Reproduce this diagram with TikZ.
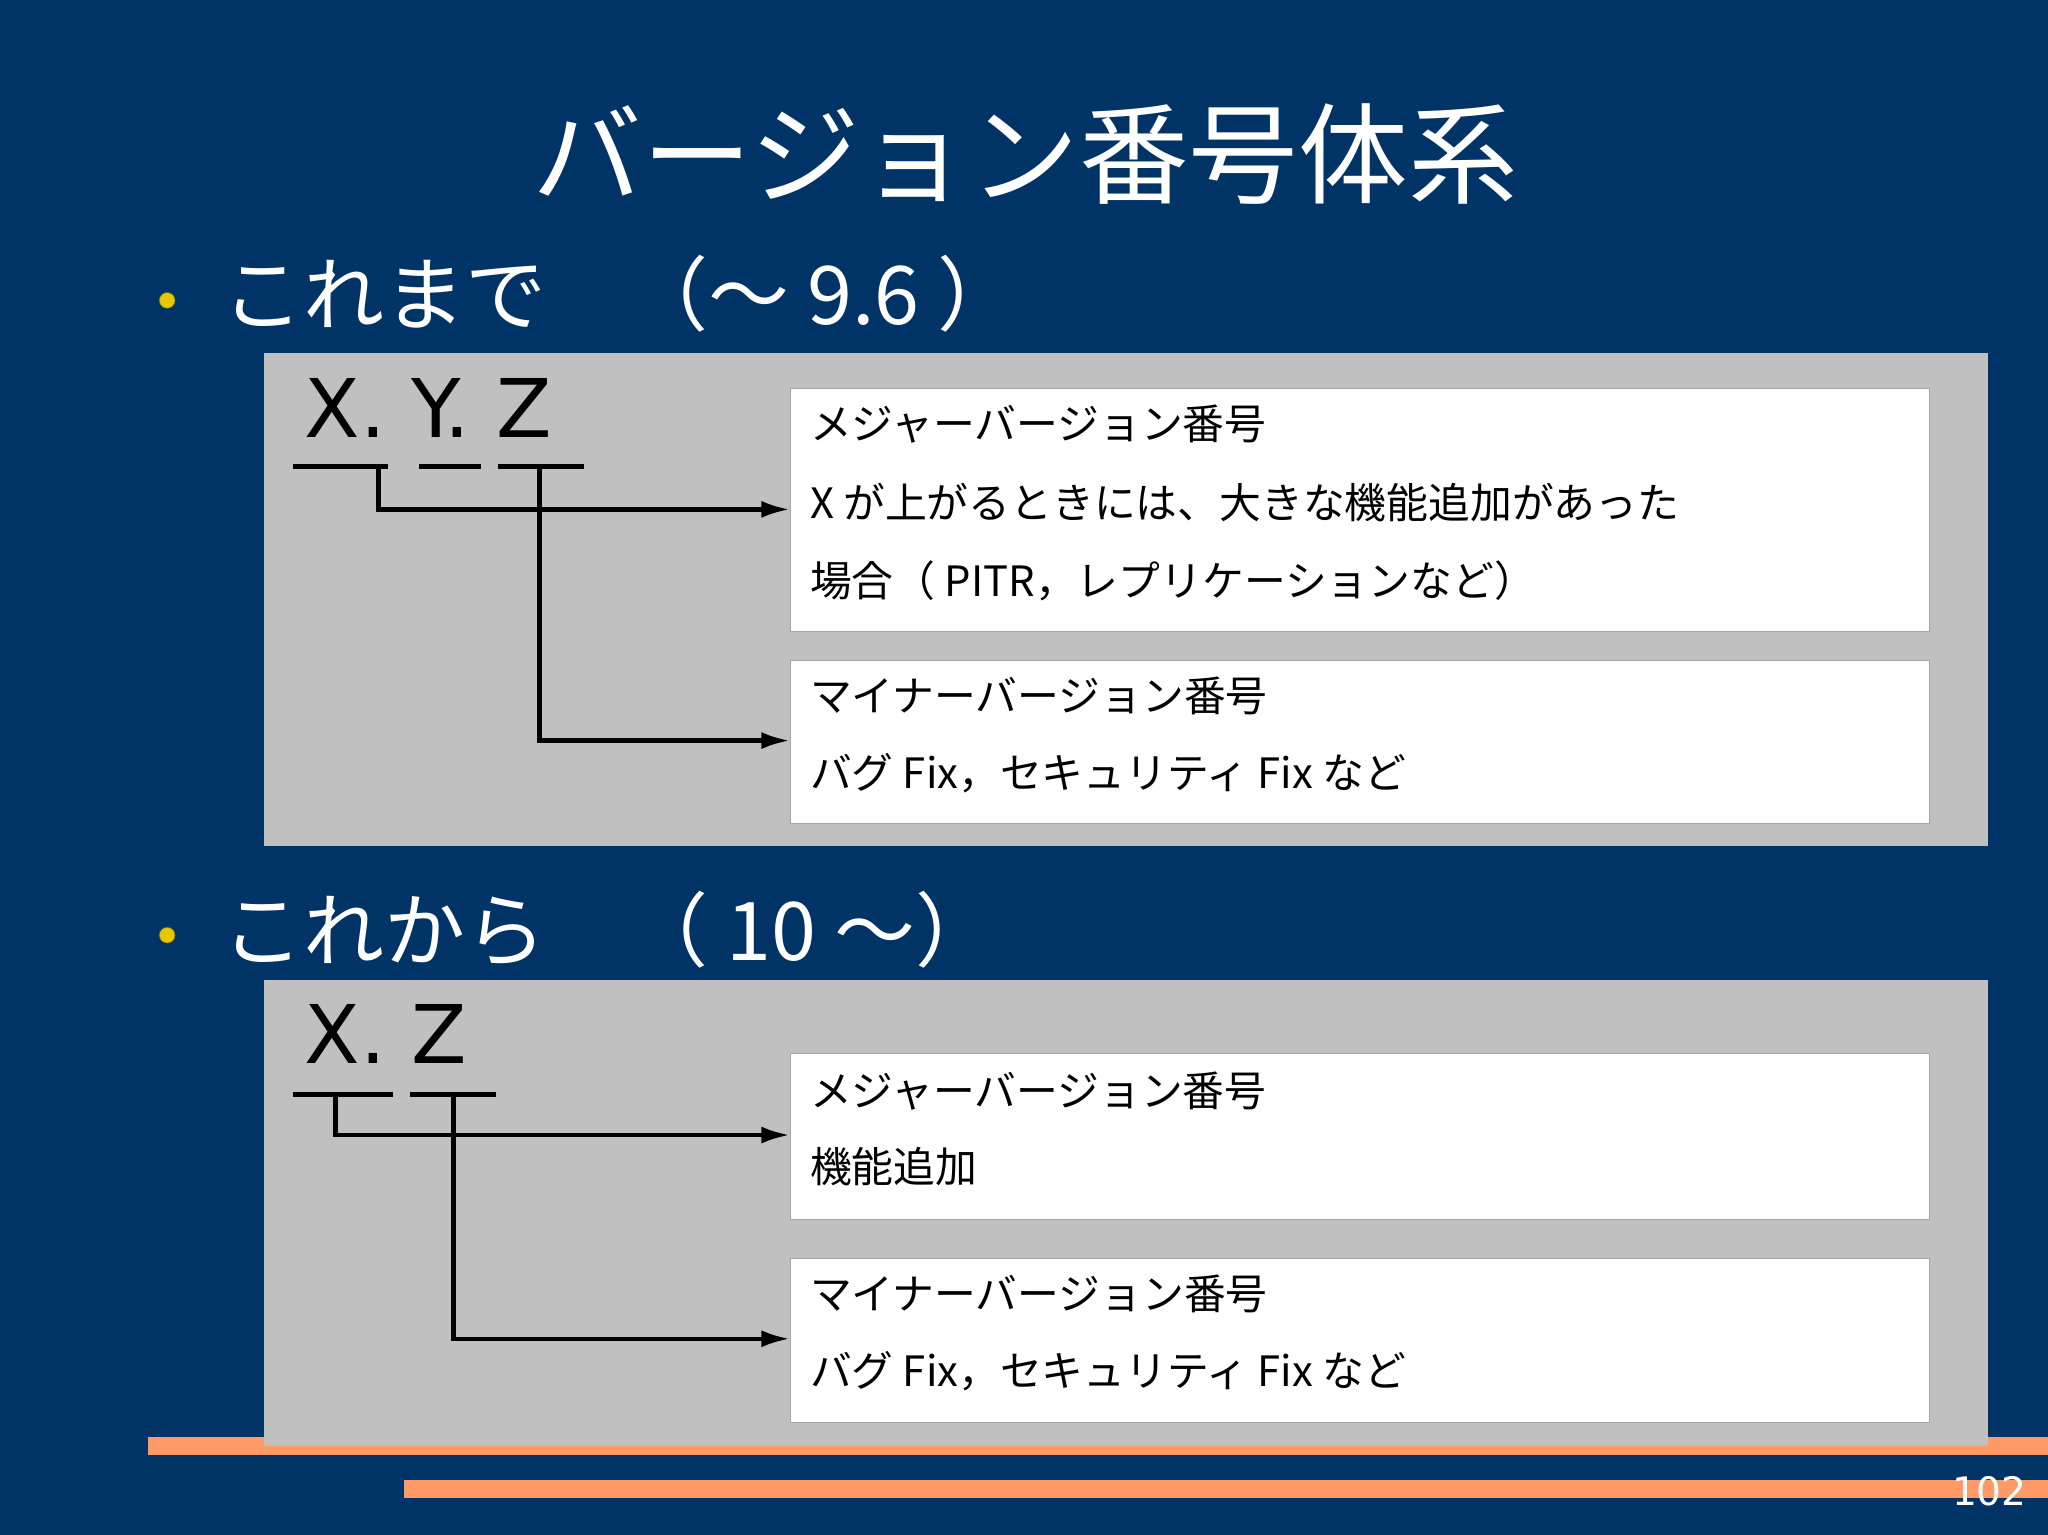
\documentclass[tikz,border=0pt]{standalone}
\usepackage{fontspec}
\setmainfont{Noto Sans CJK JP}
\newfontfamily\latinf{DejaVu Sans}
\usetikzlibrary{arrows.meta}
\definecolor{bg}{RGB}{0,51,102}
\definecolor{gbox}{RGB}{192,192,192}
\definecolor{obar}{RGB}{255,153,102}
\definecolor{bul}{RGB}{230,200,0}
\tikzset{
  wbox/.style={draw=gray!70,fill=white,line width=0.8pt},
  wtxt/.style={anchor=west,font=\fontsize{32}{32}\selectfont,inner sep=0},
  conn/.style={line width=3.5pt,-{Latex[length=22pt,width=13pt]}},
  uline/.style={line width=3.5pt},
  stem/.style={line width=3.5pt},
  bullet/.style={circle,fill=bul,draw=bul!60!black,minimum size=12pt,inner sep=0},
  head/.style={anchor=west,text=white,font=\fontsize{62}{62}\selectfont,inner sep=0},
  ver/.style={anchor=west,font=\latinf\fontsize{62}{62}\selectfont,inner sep=0}
}
\begin{document}
\begin{tikzpicture}[x=1pt,y=-1pt]
\useasboundingbox (0,0) rectangle (1568,1175);
\fill[bg] (0,0) rectangle (1568,1175);
\fill[obar] (113,1100) rectangle (1568,1114);
\fill[obar] (309,1133) rectangle (1568,1147);
\node[text=white,font=\latinf\fontsize{30}{30}\selectfont,anchor=east,inner sep=0] (pg) at (1552,1142) {102};
\node[text=white,font=\fontsize{84}{84}\selectfont,inner sep=0] (title) at (785,118) {バージョン番号体系};
% section 1
\node[bullet] (b1) at (128,230) {};
\node[head] (h1) at (170,225) {これまで　（～ 9.6 ）};
\fill[gbox] (202,270) rectangle (1522,648);
\node[ver] (v1) at (233,312) {X. Y. Z};
\draw[uline] (224,357) -- (297,357);
\draw[uline] (321,357) -- (368,357);
\draw[uline] (381,357) -- (447,357);
\node[wbox,minimum width=872pt,minimum height=186pt,anchor=north west] (A) at (605,297) {};
\node[wtxt] (A1) at (620,325) {メジャーバージョン番号};
\node[wtxt] (A2) at (620,385) {X が上がるときには、大きな機能追加があった};
\node[wtxt] (A3) at (620,445) {場合（ PITR，レプリケーションなど）};
\node[wbox,minimum width=872pt,minimum height=125pt,anchor=north west] (B) at (605,505) {};
\node[wtxt] (B1) at (620,533) {マイナーバージョン番号};
\node[wtxt] (B2) at (620,592) {バグ Fix，セキュリティ Fix など};
\coordinate (s1) at (290,357);
\coordinate (s2) at (413,357);
\draw[conn] (s1) -- (290,390) -- (A.west |- 0,390);
\draw[conn] (s2) -- (413,567) -- (B.west |- 0,567);
% section 2
\node[bullet] (b2) at (128,716) {};
\node[head] (h2) at (170,712) {これから　（ 10 ～）};
\fill[gbox] (202,750) rectangle (1522,1107);
\node[ver] (v2) at (233,792) {X. Z};
\draw[uline] (224,838) -- (301,838);
\draw[uline] (314,838) -- (380,838);
\node[wbox,minimum width=872pt,minimum height=127pt,anchor=north west] (C) at (605,806) {};
\node[wtxt] (C1) at (620,835) {メジャーバージョン番号};
\node[wtxt] (C2) at (620,893) {機能追加};
\node[wbox,minimum width=872pt,minimum height=126pt,anchor=north west] (D) at (605,963) {};
\node[wtxt] (D1) at (620,991) {マイナーバージョン番号};
\node[wtxt] (D2) at (620,1050) {バグ Fix，セキュリティ Fix など};
\coordinate (s3) at (257,838);
\coordinate (s4) at (347,838);
\draw[conn] (s3) -- (257,869) -- (C.west |- 0,869);
\draw[conn] (s4) -- (347,1025) -- (D.west |- 0,1025);
\end{tikzpicture}
\end{document}
